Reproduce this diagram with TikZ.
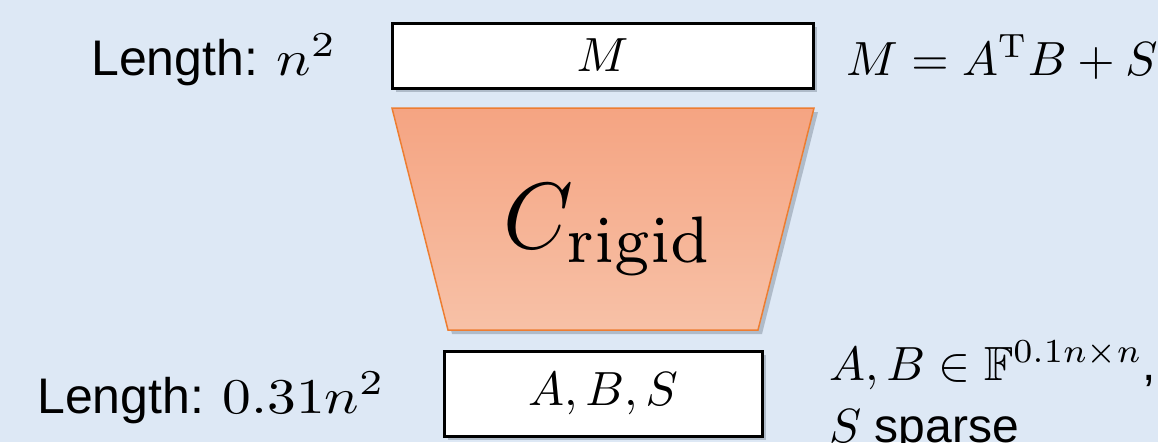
\documentclass[tikz,border=0pt]{standalone}
\usepackage{amssymb}
\usepackage[no-math]{fontspec}
\setmainfont{Liberation Sans}
\usetikzlibrary{shadows}
\definecolor{bg}{HTML}{DDE8F5}
\definecolor{trtop}{HTML}{F5A482}
\definecolor{trbot}{HTML}{F7C1A7}
\definecolor{trline}{HTML}{ED7D31}
\definecolor{shadc}{HTML}{5A6878}
\tikzset{
  shad/.style={drop shadow={shadow xshift=4pt, shadow yshift=-4pt, opacity=0.35, fill=shadc}},
  databox/.style={draw=black, line width=3pt, fill=white, shad, inner sep=0pt},
  lbl/.style={inner sep=0pt, anchor=base west},
}
\newcommand{\txtL}[1]{\scalebox{5}{#1}}
\newcommand{\txtM}[1]{\scalebox{4.8}{#1}}
\newcommand{\wide}[1]{\scalebox{1.15}[1]{#1}}
\begin{document}
\begin{tikzpicture}[x=1pt,y=-1pt]
\useasboundingbox (0,0) rectangle (1158,442);
\clip (0,0) rectangle (1158,442);
\fill[bg] (0,0) rectangle (1158,442);

% top data box
\node[databox, minimum width=421pt, minimum height=65pt] (mbox) at (602.5,55.5) {\txtM{$M$}};
% trapezoid compressor
\coordinate (tl) at (392,108);
\coordinate (tr) at (814,108);
\coordinate (br) at (758,330);
\coordinate (bl) at (448,330);
\path[shad, draw=trline, line width=1.5pt, top color=trtop, bottom color=trbot]
  (tl) -- (tr) -- (br) -- (bl) -- cycle;
\node[lbl] (crigid) at (503,248) {\scalebox{8.9}[9.4]{$C_{\mathrm{rigid}}$}};
% bottom data box
\node[databox, minimum width=318pt, minimum height=85pt] (absbox) at (603,393.5) {\txtM{$A,B,S$}};

% labels
\node[lbl] (len1) at (91,75) {\txtL{Length: \wide{$n^2$}}};
\node[lbl] (len2) at (37,413) {\txtL{Length: \wide{$0.31n^2$}}};
\node[lbl] (meq) at (846,75) {\txtM{$M=A^{\mathrm{T}}B+S$}};
\node[lbl] (abf) at (829,380) {\txtM{$A,B\in\mathbb{F}^{0.1n\times n}$,}};
\node[lbl] (ssp) at (829,442) {\txtM{$S$ sparse}};
\end{tikzpicture}
\end{document}
